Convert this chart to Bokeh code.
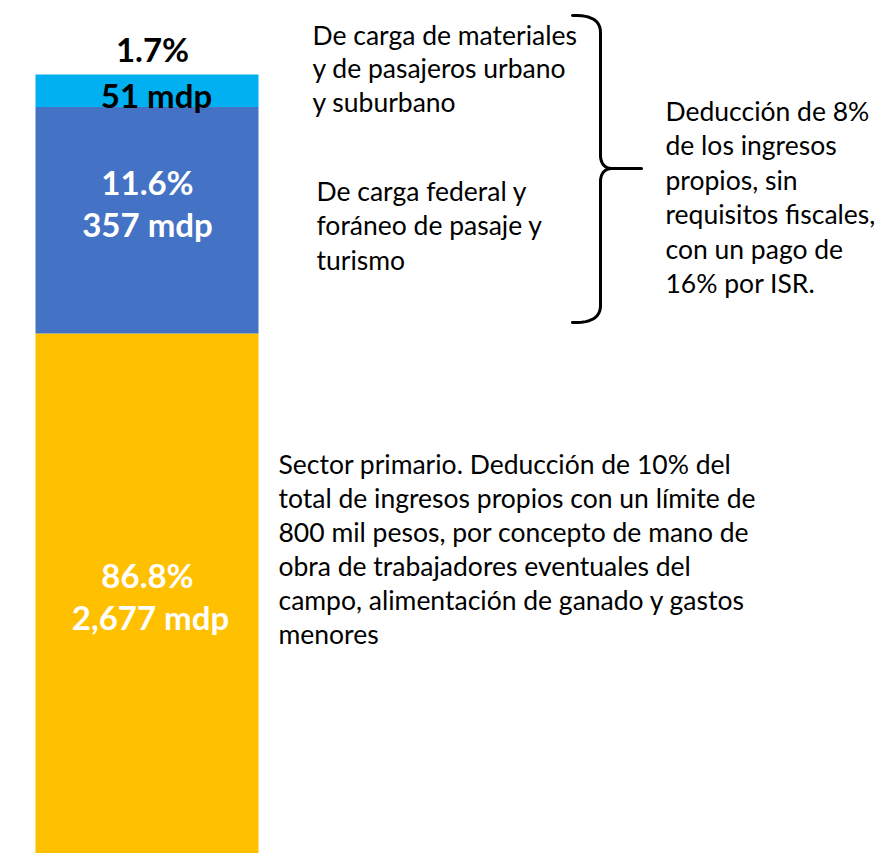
import numpy as np
from bokeh.plotting import figure
from bokeh.models import Range1d, Label
from bokeh.embed import file_html
from bokeh.resources import INLINE

# ---- data ----
categories = ["Sector primario",
              "De carga federal y foráneo de pasaje y turismo",
              "De carga de materiales y de pasajeros urbano y suburbano"]
values = [2677, 357, 51]          # millones de pesos
percents = [86.8, 11.6, 1.7]
colors = ["#FFC000", "#4472C4", "#00B0F0"]

W, H = 878, 853
PX_PER_UNIT_X = 223.0           # bar width in px
K = 1.575                       # value units per px
total = sum(values)
X0 = -0.5 - 35 / PX_PER_UNIT_X
X1 = X0 + W / PX_PER_UNIT_X
Y1 = total + 74 * K
Y0 = Y1 - H * K

p = figure(width=W, height=H, x_range=Range1d(X0, X1), y_range=Range1d(Y0, Y1),
           output_backend="svg", toolbar_location=None, min_border=0)
p.axis.visible = False
p.grid.visible = False
p.outline_line_color = None
p.background_fill_color = "white"
p.border_fill_color = "white"

tops = list(np.cumsum(values))
bottoms = [0] + tops[:-1]
p.vbar(x=[0] * len(values), bottom=bottoms, top=tops, width=1.0,
       fill_color=colors, line_color=None)

# helpers: reference pixel -> bokeh screen / data units
def sx(x):
    return x
def sy(y):
    return H - y
def dx(x):
    return X0 + x / PX_PER_UNIT_X
def dy(y):
    return Y1 - y * K

FONT = "Lato"
REG = "26.5px"
BOLD = "33px"

def lab(text, x, y, size=REG, bold=False, color="black", align="left"):
    p.add_layout(Label(x=sx(x), y=sy(y), x_units="screen", y_units="screen",
                       text=text, text_font=FONT, text_font_size=size,
                       text_font_style="bold" if bold else "normal",
                       text_color=color, text_align=align, text_baseline="middle"))

# bar value labels
pct_txt = [f"{v}%" for v in percents]
mdp_txt = [f"{v:,} mdp" for v in values]
lab(pct_txt[2], 152, 48, BOLD, True, "black", "center")
lab(mdp_txt[2], 156, 94, BOLD, True, "black", "center")
lab(pct_txt[1], 147, 181, BOLD, True, "white", "center")
lab(mdp_txt[1], 147, 223, BOLD, True, "white", "center")
lab(pct_txt[0], 147, 574, BOLD, True, "white", "center")
lab(mdp_txt[0], 150, 616, BOLD, True, "white", "center")

# annotations
for i, t in enumerate(["De carga de materiales", "y de pasajeros urbano", "y suburbano"]):
    lab(t, 312, 34 + i * 33.5)
for i, t in enumerate(["De carga federal y", "foráneo de pasaje y", "turismo"]):
    lab(t, 316, 190 + i * 34.5)
for i, t in enumerate(["Deducción de 8%", "de los ingresos", "propios, sin",
                       "requisitos fiscales,", "con un pago de", "16% por ISR."]):
    lab(t, 665, 110 + i * 34.5)
for i, t in enumerate(["Sector primario. Deducción de 10% del",
                       "total de ingresos propios con un límite de",
                       "800 mil pesos, por concepto de mano de",
                       "obra de trabajadores eventuales del",
                       "campo, alimentación de ganado y gastos",
                       "menores"]):
    lab(t, 278, 463 + i * 34)

# curly brace (decoration)
def quad(p0, c, p1, n=12):
    t = np.linspace(0, 1, n)
    xs = (1 - t) ** 2 * p0[0] + 2 * (1 - t) * t * c[0] + t ** 2 * p1[0]
    ys = (1 - t) ** 2 * p0[1] + 2 * (1 - t) * t * c[1] + t ** 2 * p1[1]
    return list(xs), list(ys)

segs = [
    quad((572, 15), (600, 14), (600, 32)),
    ([600, 600], [32, 156]),
    quad((600, 156), (601, 168), (612, 168)),
    ([612, 641], [168, 168]),
    quad((612, 168), (601, 168), (600, 180)),
    ([600, 600], [180, 305]),
    quad((600, 305), (600, 323), (572, 322)),
]
for xs, ys in segs:
    p.line([dx(v) for v in xs], [dy(v) for v in ys], line_color="black",
           line_width=3, line_cap="round")

open("out.html", "w").write(file_html(p, INLINE))
